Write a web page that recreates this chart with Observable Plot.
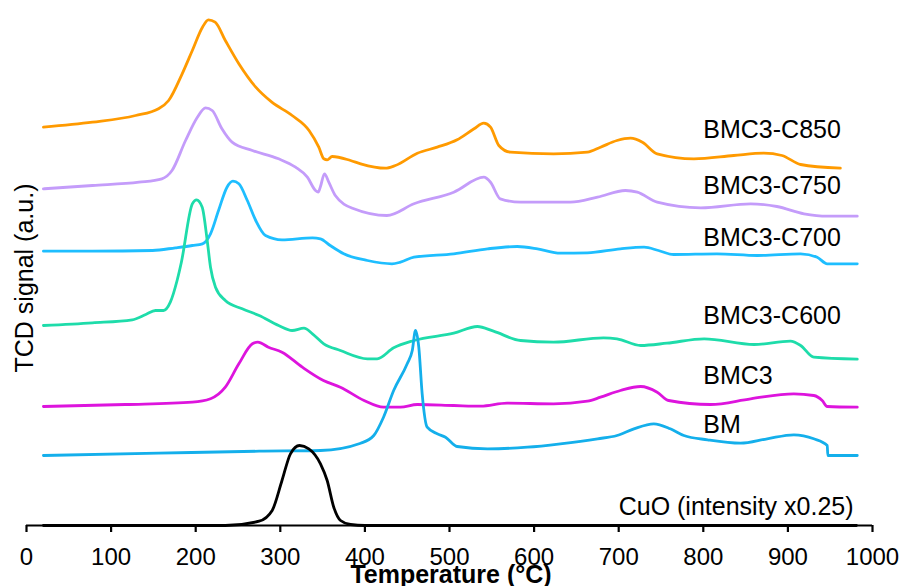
<!DOCTYPE html>
<html>
<head>
<meta charset="utf-8">
<script src="https://cdn.jsdelivr.net/npm/d3@7"></script>
<script src="https://cdn.jsdelivr.net/npm/@observablehq/plot@0.6"></script>
<style>
  html, body { margin: 0; padding: 0; background: #fff; }
  #chart { width: 903px; height: 586px; }
</style>
</head>
<body>
<div id="chart"></div>
<script>
// ---- data: [temperature °C, TCD signal (a.u., stacked offsets)] ----
const seriesNames = ["BMC3-C850", "BMC3-C750", "BMC3-C700", "BMC3-C600", "BMC3", "BM", "CuO"];
const seriesLabels = ["BMC3-C850", "BMC3-C750", "BMC3-C700", "BMC3-C600", "BMC3", "BM", "CuO (intensity x0.25)"];
const seriesColors = ["#FF9A00", "#C49CFA", "#1EBEFF", "#1EDCAA", "#DD14DD", "#14AFEB", "#000000"];
const xTicks = [0, 100, 200, 300, 400, 500, 600, 700, 800, 900, 1000];

const BMC3_C850 = [[20,398.3],[78,403.3],[129,410],[156,416.7],[168,425],[184,451.7],[196,475],[208,498.3],[215,505.7],[223,503.3],[235,485],[251,461.7],[271,438.3],[290,423.3],[314,410],[334,395],[345.5,378.3],[351.4,366.7],[355.4,365.7],[361.3,369],[383,365],[395,361.7],[424,357.3],[436,360],[462,372.3],[485.5,378.3],[509,385.7],[529,396.7],[540.5,402.3],[548.5,398.3],[558.3,380],[572,373.3],[623,371.7],[663,373.3],[678.5,378.3],[698,385],[714,387.3],[728,383.3],[745.5,371.7],[789,366.7],[836,370],[871.5,372.3],[893,370],[915,361],[962,357.3]];
const BMC3_C750 = [[20,336.7],[78,340],[133,343.3],[160,346.7],[172,355],[188,385],[202,408.3],[211.6,417.7],[219.5,415],[231,396.7],[243,383.3],[267,375],[298,366.7],[318,358.3],[332,348.3],[341.6,335],[344.8,333.3],[347.5,339],[352.2,351.7],[357.3,343.3],[365,330],[387,316.7],[426,310],[458,321.7],[505,333.3],[540.5,348.3],[548.5,343.3],[560,326.7],[584,323.3],[643,323.3],[675,328.3],[708,335],[722,333.3],[745.5,323.3],[797,317.7],[856,321.7],[887,319],[919,311.7],[946.5,309.3],[982,309.3]];
const BMC3_C700 = [[20,274.3],[78,274.3],[149,275],[176,277.7],[196,280],[208,281.7],[217.5,291.7],[227,315],[237,338.3],[244,344.3],[251,341.7],[261,325],[271,305],[282.5,290],[302,285.7],[338,287.7],[347.5,286.7],[359,280],[375,271.7],[403,265],[432,261.7],[442,263.3],[458,268.3],[505,271.7],[545,276.7],[580,279],[604,276.7],[631,272.3],[663,272.7],[702,276.7],[730,278.3],[747,275],[765,271],[816,271.7],[864,270],[915,271.7],[934.6,268.3],[946.5,261.7],[982,261.7]];
const BMC3_C600 = [[20,200],[78,202.7],[125,205.7],[141,211],[152.5,215],[162,215],[170,223.3],[178,245],[183,263],[196,321.7],[201,325.7],[207.7,318.3],[213.6,285],[217.5,258.3],[223.4,238.3],[235,225],[255,216.7],[275,210],[298,200],[314,195],[328,197.3],[338,191.7],[351.4,181.7],[371,175],[403,166.7],[414.5,166.7],[434,177.7],[458,185],[505,192.3],[533,199],[552,194.3],[584,185],[623,183.3],[682,187.7],[698,186.7],[726,180],[757,182.3],[801,186.7],[860,181],[903,184.3],[915,180],[930.6,168.3],[982,166.3]];
const BMC3 = [[20,119],[117,121],[196,123.3],[217.5,126.7],[235,138.3],[251,161.7],[267,181.7],[273.4,183.3],[286,178.3],[302,173.3],[326,158.3],[351,145],[371,138.3],[399,125],[422,118.3],[442,118.3],[462,121],[505,120],[537,119.3],[568,122.3],[623,121.7],[663,124.3],[678.5,128.3],[702,135],[726,139],[745.5,133.3],[759,125],[808.5,121],[856,126.7],[907,131.7],[930.6,130],[940.5,125],[946.5,119],[982,118.3]];
const BM = [[20,70],[156,72.3],[275,74.3],[347.5,75],[395,82.3],[410.5,90],[422,108.3],[434,135],[450,161.7],[456,175],[459.8,195],[463.7,178.3],[467.7,131.7],[473.6,98.3],[485.5,91.7],[495.3,88.3],[509,79],[545,76.7],[592,78.3],[631,81.7],[675,86.7],[698,90],[718,96.7],[741.5,101.7],[761,96.7],[777,90],[805,85.7],[844,82.3],[875.5,86.7],[907,90.7],[930.6,86.7],[946.5,80],[947.2,70],[982,70]];
const CuO = [[20,0],[235,0],[275,4.3],[290.4,15],[302,45],[312,71.7],[322.7,80],[333.7,76.7],[347.5,61.7],[355.4,45],[363.2,18.3],[371.2,5],[383,1],[400,0],[981,0]];

const seriesData = [BMC3_C850, BMC3_C750, BMC3_C700, BMC3_C600, BMC3, BM, CuO];

// ---- build table ----
const rows = [];
seriesData.forEach((pts, i) => pts.forEach(([T, s]) => rows.push({series: seriesNames[i], T, s})));

// label anchors (annotation placement, data units)
const labelAnchors = [
  {x: 800, y: 396}, {x: 800, y: 340}, {x: 800, y: 288}, {x: 800, y: 210},
  {x: 800, y: 150}, {x: 800, y: 101}, {x: 700, y: 19}
];
const labelRows = seriesLabels.map((t, i) => ({text: t, ...labelAnchors[i]}));

const font = "'Liberation Sans', Arial, Helvetica, sans-serif";

const chart = Plot.plot({
  width: 903,
  height: 586,
  marginLeft: 26,
  marginRight: 31,
  marginTop: 0,
  marginBottom: 61,
  style: {fontFamily: font, fontSize: "24px", color: "#000", background: "#fff", overflow: "visible"},
  x: {domain: [0, 1000]},
  y: {domain: [0, 525], axis: null},
  color: {domain: seriesNames, range: seriesColors},
  marks: [
    Plot.line(rows, {x: "T", y: "s", z: "series", stroke: "series", strokeWidth: 2.8, curve: "monotone-x", strokeLinejoin: "round"}),
    Plot.ruleY([0], {stroke: "#000", strokeWidth: 2.2}),
    Plot.axisX({ticks: xTicks, tickSize: 7, tickPadding: 15, tickFormat: d => String(d), fontSize: 24, strokeWidth: 2.2, label: null}),
    Plot.text(labelRows, {x: "x", y: "y", text: "text", textAnchor: "start", lineAnchor: "middle", fontSize: 25, fill: "#000"}),
    Plot.text(["TCD signal (a.u.)"], {frameAnchor: "left", textAnchor: "middle", lineAnchor: "middle", rotate: -90, dx: -2, dy: 15, fontSize: 25, fill: "#000"}),
    Plot.text(["Temperature (°C)"], {frameAnchor: "bottom", textAnchor: "middle", lineAnchor: "middle", dx: 1.5, dy: 49.5, fontSize: 25, fontWeight: "bold", fill: "#000"})
  ]
});
document.getElementById("chart").appendChild(chart);
</script>
</body>
</html>
